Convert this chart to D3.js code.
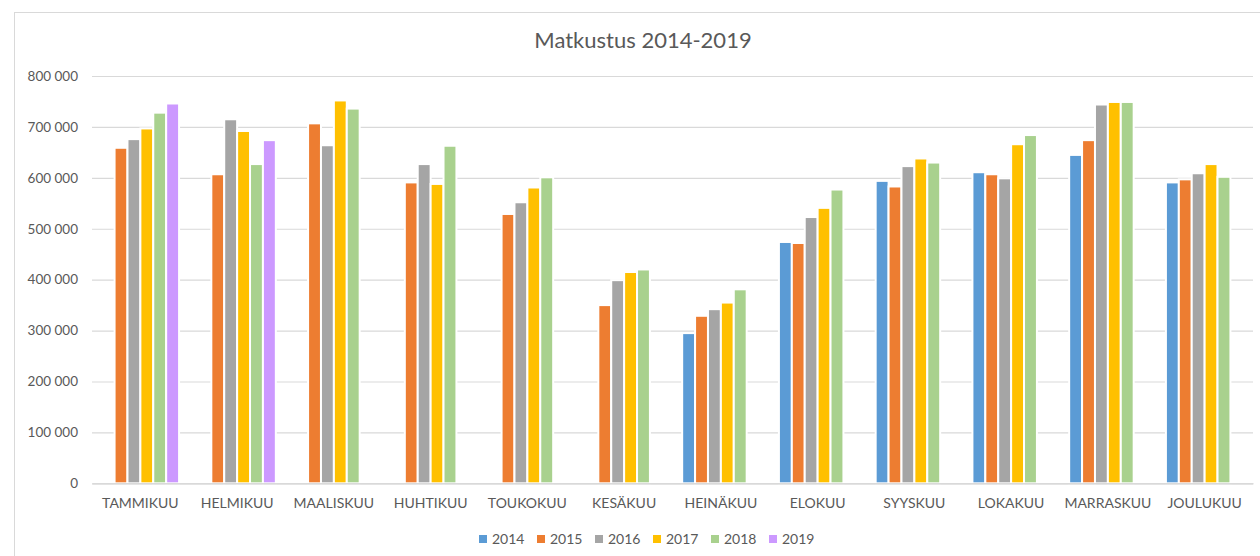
<!DOCTYPE html>
<html>
<head>
<meta charset="utf-8">
<script src="https://cdn.jsdelivr.net/npm/d3@7"></script>
<style>
  html, body { margin: 0; padding: 0; background: #fff; }
  svg { display: block; font-family: Lato, "Open Sans", sans-serif; }
</style>
</head>
<body>
<svg id="chart" width="1260" height="556"></svg>
<script>
// Matkustus 2014-2019: monthly travel volumes by year
const months = ["TAMMIKUU", "HELMIKUU", "MAALISKUU", "HUHTIKUU", "TOUKOKUU", "KESÄKUU",
                "HEINÄKUU", "ELOKUU", "SYYSKUU", "LOKAKUU", "MARRASKUU", "JOULUKUU"];
const years = ["2014", "2015", "2016", "2017", "2018", "2019"];

const v2014 = [null, null, null, null, null, null, 295000, 474000, 594000, 611000, 645000, 591000];
const v2015 = [659000, 607000, 707000, 591000, 529000, 350000, 329000, 472000, 583000, 607000, 674000, 597000];
const v2016 = [676000, 715000, 664000, 627000, 552000, 399000, 342000, 523000, 623000, 599000, 744000, 609000];
const v2017 = [697000, 692000, 752000, 588000, 581000, 415000, 355000, 541000, 638000, 666000, 749000, 627000];
const v2018 = [728000, 627000, 736000, 663000, 601000, 420000, 381000, 577000, 630000, 684000, 749000, 602000];
const v2019 = [746000, 674000, null, null, null, null, null, null, null, null, null, null];

const yTicks = [0, 100000, 200000, 300000, 400000, 500000, 600000, 700000, 800000];
const colors = ["#5B9BD5", "#ED7D31", "#A5A5A5", "#FFC000", "#A9D18E", "#CC99FF"];

const seriesValues = [v2014, v2015, v2016, v2017, v2018, v2019];

const svg = d3.select("#chart");
const W = 1260, H = 556;
const plot = { left: 92, right: 1253, top: 76, bottom: 483.3 };

// outer chart frame
svg.append("rect")
  .attr("x", 14.5).attr("y", 12.5)
  .attr("width", W + 10).attr("height", H + 10)
  .attr("fill", "#fff").attr("stroke", "#d9d9d9").attr("stroke-width", 1);

// title
svg.append("text")
  .attr("x", 643).attr("y", 48)
  .attr("text-anchor", "middle")
  .attr("font-size", 22)
  .attr("fill", "#595959")
  .text("Matkustus 2014-2019");

const x0 = d3.scaleBand().domain(months).range([plot.left, plot.right]).paddingInner(0).paddingOuter(0);
const bw = x0.bandwidth() / (years.length + 1.5);
const x1 = d3.scaleBand().domain(years).range([0.75 * bw, x0.bandwidth() - 0.75 * bw]).padding(0);
const y = d3.scaleLinear().domain([0, 800000]).range([plot.bottom, plot.top]);

const fmt = d3.formatLocale({ decimal: ",", thousands: " ", grouping: [3], currency: ["", " €"] }).format(",");

// gridlines and y tick labels
const yAxis = d3.axisLeft(y).tickValues(yTicks).tickFormat(fmt)
  .tickSize(-(plot.right - plot.left)).tickPadding(14);
const gy = svg.append("g").attr("transform", `translate(${plot.left},0)`).call(yAxis);
gy.select(".domain").remove();
gy.selectAll(".tick line").attr("stroke", "#d9d9d9").attr("stroke-width", 1.2);
gy.selectAll(".tick text").attr("fill", "#595959").attr("font-size", 13.5)
  .attr("font-family", "Lato, 'Open Sans', sans-serif");

// bars
const rows = [];
years.forEach((yr, si) => {
  months.forEach((m, mi) => {
    const v = seriesValues[si][mi];
    if (v != null) rows.push({ year: yr, month: m, value: v, color: colors[si] });
  });
});

svg.append("g").selectAll("rect").data(rows).join("rect")
  .attr("x", d => x0(d.month) + x1(d.year))
  .attr("y", d => y(d.value))
  .attr("width", x1.bandwidth())
  .attr("height", d => y(0) - y(d.value))
  .attr("fill", d => d.color)
  .attr("stroke", "#fff")
  .attr("stroke-width", 2);

// category axis
const xAxis = d3.axisBottom(x0).tickSize(0).tickPadding(15);
const gx = svg.append("g").attr("transform", `translate(0,${plot.bottom})`).call(xAxis);
gx.select(".domain").attr("stroke", "#d9d9d9").attr("stroke-width", 1.5);
gx.selectAll(".tick text").attr("fill", "#595959").attr("font-size", 14)
  .attr("font-family", "Lato, 'Open Sans', sans-serif");

// legend
const legend = svg.append("g").attr("transform", "translate(479,539)");
const item = legend.selectAll("g").data(years).join("g")
  .attr("transform", (d, i) => `translate(${i * 58},0)`);
item.append("rect").attr("x", 0).attr("y", -4).attr("width", 8).attr("height", 8)
  .attr("fill", (d, i) => colors[i]);
item.append("text").attr("x", 13).attr("y", 0).attr("dy", "0.35em")
  .attr("font-size", 14).attr("fill", "#595959").text(d => d);
</script>
</body>
</html>
